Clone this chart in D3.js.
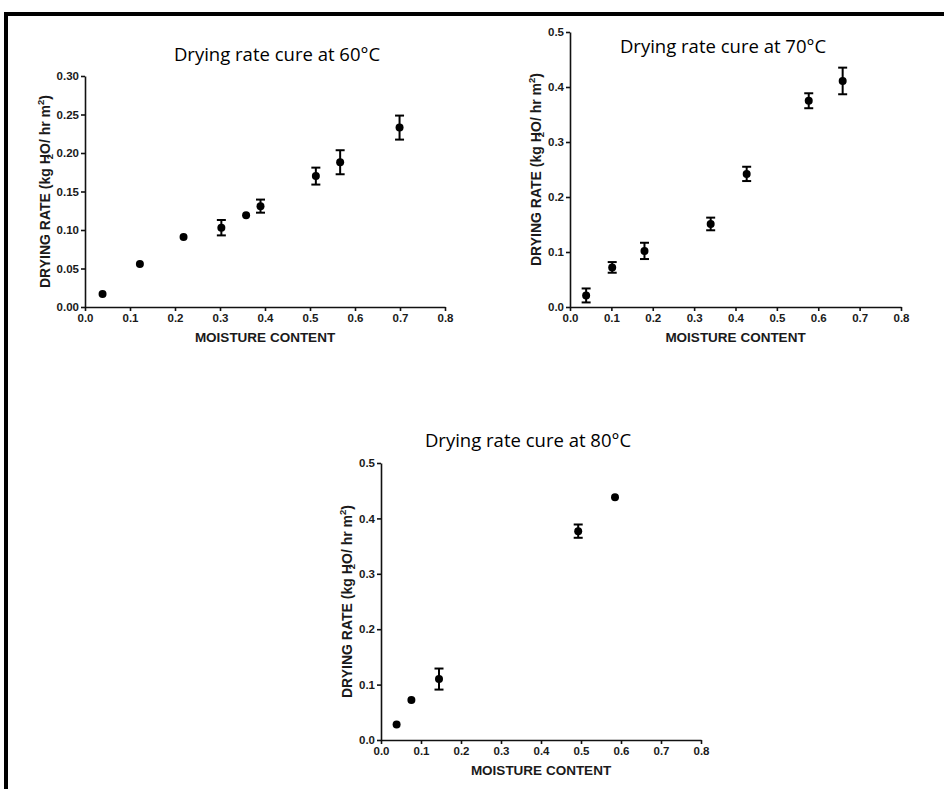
<!DOCTYPE html>
<html>
<head>
<meta charset="utf-8">
<script src="https://cdn.jsdelivr.net/npm/d3@7"></script>
<style>
  body { margin: 0; background: #fff; }
  .tick text { font-family: "Liberation Sans", Arial, sans-serif; font-weight: bold; font-size: 11.5px; fill: #1a1a1a; }
  .axis path, .axis line { stroke: #111; stroke-width: 1.6px; }
  .xtitle, .ytitle { font-family: "Liberation Sans", Arial, sans-serif; font-weight: bold; fill: #1a1a1a; }
  .ptitle { font-family: "Open Sans", "Noto Sans", sans-serif; font-size: 18.5px; fill: #000; }
</style>
</head>
<body>
<div id="chart"></div>
<script>
// data
const xTicks = [0, 0.1, 0.2, 0.3, 0.4, 0.5, 0.6, 0.7, 0.8];
const yTicks60 = [0, 0.05, 0.10, 0.15, 0.20, 0.25, 0.30];
const yTicks70 = [0, 0.1, 0.2, 0.3, 0.4, 0.5];

const moisture60 = [0.039, 0.122, 0.219, 0.303, 0.358, 0.390, 0.513, 0.567, 0.699];
const rate60     = [0.017, 0.056, 0.091, 0.103, 0.119, 0.131, 0.170, 0.188, 0.233];
const err60      = [0, 0, 0, 0.010, 0, 0.0085, 0.011, 0.0156, 0.0156];

const moisture70 = [0.039, 0.102, 0.180, 0.340, 0.427, 0.577, 0.659];
const rate70     = [0.021, 0.072, 0.102, 0.151, 0.242, 0.375, 0.411];
const err70      = [0.0127, 0.0097, 0.0148, 0.0115, 0.013, 0.0136, 0.0242];

const moisture80 = [0.039, 0.076, 0.145, 0.493, 0.585];
const rate80     = [0.028, 0.072, 0.110, 0.377, 0.438];
const err80      = [0, 0, 0.019, 0.012, 0];

const panels = [
  { title: "Drying rate cure at 60°C", xs: moisture60, ys: rate60, es: err60, yTicks: yTicks60, yMax: 0.30, fmt: ".2f",
    left: 85, right: 445, top: 76, bottom: 307, titleX: 277, titleY: 61, yTitleOff: 40 },
  { title: "Drying rate cure at 70°C", xs: moisture70, ys: rate70, es: err70, yTicks: yTicks70, yMax: 0.5, fmt: ".1f",
    left: 570, right: 901, top: 32, bottom: 307, titleX: 723, titleY: 53, yTitleOff: 34 },
  { title: "Drying rate cure at 80°C", xs: moisture80, ys: rate80, es: err80, yTicks: yTicks70, yMax: 0.5, fmt: ".1f",
    left: 381, right: 701, top: 463, bottom: 740, titleX: 528, titleY: 447, yTitleOff: 34 }
];

const svg = d3.select("#chart").append("svg")
  .attr("width", 944)
  .attr("height", 789);

svg.append("rect").attr("width", 944).attr("height", 789).attr("fill", "#fff");

// outer frame
svg.append("rect")
  .attr("x", 6).attr("y", 14)
  .attr("width", 960).attr("height", 800)
  .attr("fill", "none").attr("stroke", "#000").attr("stroke-width", 4);

panels.forEach(p => {
  const x = d3.scaleLinear().domain([0, 0.8]).range([p.left, p.right]);
  const y = d3.scaleLinear().domain([0, p.yMax]).range([p.bottom, p.top]);
  const g = svg.append("g");

  g.append("g")
    .attr("class", "axis")
    .attr("transform", `translate(0,${p.bottom})`)
    .call(d3.axisBottom(x).tickValues(xTicks).tickFormat(d3.format(".1f")).tickSize(4).tickSizeOuter(0).tickPadding(3));

  g.append("g")
    .attr("class", "axis")
    .attr("transform", `translate(${p.left},0)`)
    .call(d3.axisLeft(y).tickValues(p.yTicks).tickFormat(d3.format(p.fmt)).tickSize(4).tickSizeOuter(0).tickPadding(2));

  // titles
  g.append("text")
    .attr("class", "ptitle")
    .attr("x", p.titleX).attr("y", p.titleY)
    .attr("text-anchor", "middle")
    .text(p.title);

  g.append("text")
    .attr("class", "xtitle")
    .attr("x", (p.left + p.right) / 2).attr("y", p.bottom + 35)
    .attr("text-anchor", "middle")
    .style("font-size", "13.5px")
    .text("MOISTURE CONTENT");

  const yt = g.append("text")
    .attr("class", "ytitle")
    .attr("transform", `translate(${p.left - p.yTitleOff},${(p.top + p.bottom) / 2}) rotate(-90)`)
    .attr("text-anchor", "middle")
    .attr("dy", "0.35em")
    .style("font-size", "14px");
  yt.append("tspan").text("DRYING RATE (kg H");
  yt.append("tspan").attr("dx", -5).attr("dy", 3).style("font-size", "9.5px").text("2");
  yt.append("tspan").attr("dy", -3).text("O/ hr m");
  yt.append("tspan").attr("dy", -6).style("font-size", "9.5px").text("2");
  yt.append("tspan").attr("dy", 6).text(")");

  const pts = p.xs.map((v, i) => ({ x: v, y: p.ys[i], e: p.es[i] }));

  // error bars
  const bars = g.selectAll(".eb").data(pts.filter(d => d.e > 0)).enter().append("g");
  bars.append("line")
    .attr("x1", d => x(d.x)).attr("x2", d => x(d.x))
    .attr("y1", d => y(d.y - d.e)).attr("y2", d => y(d.y + d.e))
    .attr("stroke", "#000").attr("stroke-width", 2);
  [-1, 1].forEach(s => {
    bars.append("line")
      .attr("x1", d => x(d.x) - 4.5).attr("x2", d => x(d.x) + 4.5)
      .attr("y1", d => y(d.y + s * d.e)).attr("y2", d => y(d.y + s * d.e))
      .attr("stroke", "#000").attr("stroke-width", 2);
  });

  g.selectAll("circle").data(pts).enter().append("circle")
    .attr("cx", d => x(d.x))
    .attr("cy", d => y(d.y))
    .attr("r", 4)
    .attr("fill", "#000");
});
</script>
</body>
</html>
